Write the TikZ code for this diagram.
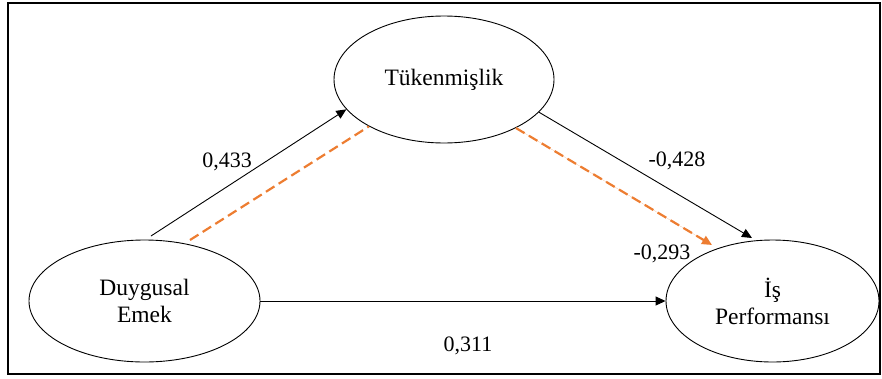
\documentclass[tikz,border=0pt]{standalone}
\usepackage{fontspec}
\setmainfont{Liberation Serif}
\usetikzlibrary{arrows.meta,shapes.geometric}
\definecolor{orng}{HTML}{ED7D31}
\begin{document}
\begin{tikzpicture}[x=1pt,y=-1pt,
  latent/.style={draw=black,line width=0.9pt,ellipse,inner sep=0pt,align=center,
    font=\fontsize{23.5}{27}\selectfont},
  coef/.style={font=\fontsize{22}{25}\selectfont,inner sep=0pt},
  path/.style={draw=black,line width=0.9pt},
  tip/.style={-{Triangle[length=10pt,width=9pt]}},
  ind/.style={draw=orng,line width=2.2pt,dash pattern=on 10pt off 5pt}]
\useasboundingbox (0,0) rectangle (882,378);
\node[draw=black,line width=1.4pt,minimum width=872pt,minimum height=371pt,inner sep=0pt] (frame) at (444,188.5) {};
\node[latent,minimum width=220pt,minimum height=127pt] (tk) at (444,79.5) {Tükenmişlik};
\node[latent,minimum width=231pt,minimum height=122pt] (de) at (144.5,301) {Duygusal\\Emek};
\node[latent,minimum width=213pt,minimum height=122pt] (ip) at (772.5,301) {İş\\Performansı};
\coordinate (s1) at (151,236);
\coordinate (s2) at (190,240);
\coordinate (e3) at (752,238);
\coordinate (e4) at (712,245);
\draw[path,tip] (s1) -- (tk.197.6);
\draw[ind] (s2) -- (tk.212.7);
\draw[path,tip] (tk.341.5) -- (e3);
\draw[ind,-{Triangle[length=10pt,width=9pt]},fill=orng] (tk.326.4) -- (e4);
\draw[path,tip] (de.east) -- (ip.west);
\node[coef] (l1) at (227,162) {0,433};
\node[coef] (l2) at (677,161) {-0,428};
\node[coef] (l3) at (662,254) {-0,293};
\node[coef] (l4) at (468,346) {0,311};
\end{tikzpicture}
\end{document}
